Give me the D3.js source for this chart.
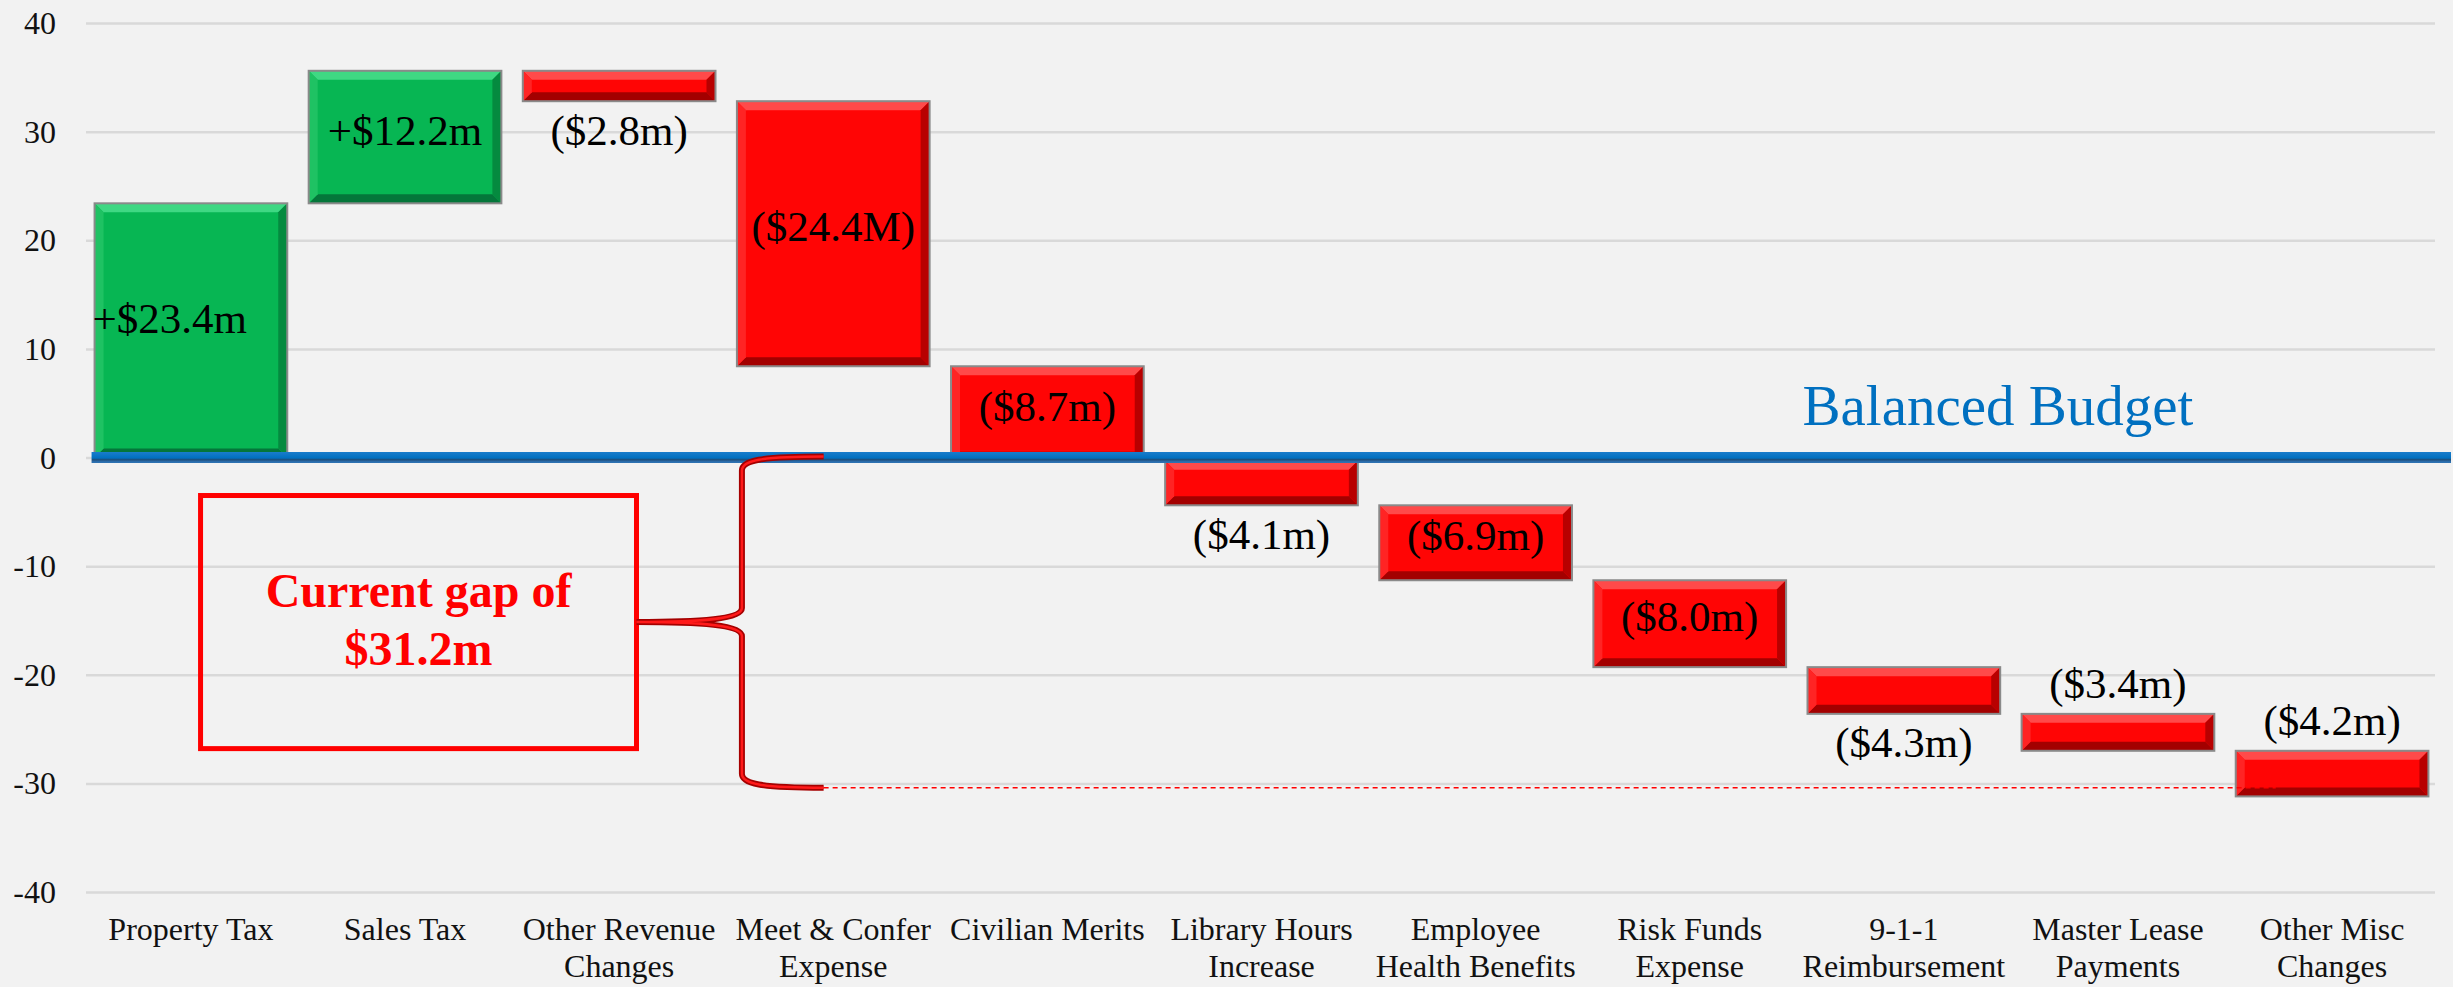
<!DOCTYPE html>
<html>
<head>
<meta charset="utf-8">
<title>Budget Gap Waterfall</title>
<script src="https://d3js.org/d3.v7.min.js"></script>
<style>
  body { margin: 0; background: #f2f2f2; }
  svg { display: block; font-family: "Liberation Serif", "Times New Roman", serif; }
</style>
</head>
<body>
<div id="chart"></div>
<script>
// categories along the bottom, split over two lines like the original
var categories = ["Property Tax", "Sales Tax", "Other Revenue Changes", "Meet & Confer Expense",
  "Civilian Merits", "Library Hours Increase", "Employee Health Benefits", "Risk Funds Expense",
  "9-1-1 Reimbursement", "Master Lease Payments", "Other Misc Changes"];
var categoryLines = [["Property Tax"], ["Sales Tax"], ["Other Revenue", "Changes"], ["Meet & Confer", "Expense"],
  ["Civilian Merits"], ["Library Hours", "Increase"], ["Employee", "Health Benefits"], ["Risk Funds", "Expense"],
  ["9-1-1", "Reimbursement"], ["Master Lease", "Payments"], ["Other Misc", "Changes"]];

// change for each item, $ millions
var changes = [23.4, 12.2, -2.8, -24.4, -8.7, -4.1, -6.9, -8.0, -4.3, -3.4, -4.2];
var valueLabels = ["+$23.4m", "+$12.2m", "($2.8m)", "($24.4M)", "($8.7m)", "($4.1m)",
  "($6.9m)", "($8.0m)", "($4.3m)", "($3.4m)", "($4.2m)"];
// where each value label sits relative to its bar
var labelPlace = ["left", "inside", "below", "inside", "inside", "below", "inside", "inside", "below", "above", "above"];

var yTicks = [40, 30, 20, 10, 0, -10, -20, -30, -40];
var lineText = "Balanced Budget";
var gapText = ["Current gap of", "$31.2m"];
var gapLevel = -30.4;       // where the brace and dashed line end
var gapBox = [-3.5, -26.8]; // top / bottom of the call-out box

var width = 2453, height = 987;
var left = 86, right = 2435;

var svg = d3.select("#chart").append("svg")
  .attr("width", width)
  .attr("height", height);

svg.append("rect").attr("width", width).attr("height", height).attr("fill", "#f2f2f2");

var x = d3.scaleBand().domain(categories).range([left, 2437]).paddingInner(0.1).paddingOuter(0.04);
var y = d3.scaleLinear().domain([-40, 40]).range([892, 23]);
var bw = x.bandwidth();

// running totals
var bars = [];
var total = 0;
changes.forEach(function(v, i) {
  var start = total;
  total = total + v;
  bars.push({cat: categories[i], start: start, end: total, value: v, label: valueLabels[i], place: labelPlace[i]});
});

var defs = svg.append("defs");
var blue = defs.append("linearGradient").attr("id", "blueLine").attr("x1", 0).attr("y1", 0).attr("x2", 0).attr("y2", 1);
blue.append("stop").attr("offset", "0").attr("stop-color", "#1a7ccb");
blue.append("stop").attr("offset", "0.55").attr("stop-color", "#0070c0");
blue.append("stop").attr("offset", "0.7").attr("stop-color", "#1f4e79");
blue.append("stop").attr("offset", "0.85").attr("stop-color", "#2a6aa8");
blue.append("stop").attr("offset", "1").attr("stop-color", "#2e75b6");

// gridlines
var grid = svg.append("g")
  .attr("transform", "translate(" + left + ",0)")
  .call(d3.axisLeft(y).tickValues(yTicks).tickSize(-(right - left)).tickFormat(""));
grid.select(".domain").remove();
grid.selectAll("line").attr("stroke", "#d9d9d9").attr("stroke-width", 2.5);

// y labels (plain hyphen for negatives, as in the original)
var yAxis = svg.append("g")
  .attr("transform", "translate(" + left + ",0)")
  .call(d3.axisLeft(y).tickValues(yTicks).tickSize(0).tickPadding(30).tickFormat(function(d) { return String(d); }));
yAxis.select(".domain").remove();
yAxis.selectAll("text")
  .attr("font-family", "Liberation Serif")
  .attr("font-size", 32)
  .attr("fill", "#111")
  .attr("dy", "0.33em");

// x labels
var xAxis = svg.append("g")
  .attr("transform", "translate(0," + y(-40) + ")")
  .call(d3.axisBottom(x).tickSize(0));
xAxis.select(".domain").remove();
xAxis.selectAll("text").each(function(d, i) {
  var t = d3.select(this).text(null).attr("dy", null).attr("y", 0)
    .attr("font-family", "Liberation Serif").attr("font-size", 32).attr("fill", "#111");
  categoryLines[i].forEach(function(line, k) {
    t.append("tspan").attr("x", 0).attr("y", 48 + k * 37).text(line);
  });
});

// bars with a bevel look
var colors = {
  up:   {base: "#07b653", top: "#3fd883", left: "#1fc263", right: "#058a3f", bottom: "#04763a"},
  down: {base: "#ff0505", top: "#ff4a4a", left: "#ff2424", right: "#b80000", bottom: "#a30000"}
};

var barG = svg.append("g");
bars.forEach(function(d) {
  var c = d.value >= 0 ? colors.up : colors.down;
  var x0 = x(d.cat), x1 = x0 + bw;
  var y0 = y(Math.max(d.start, d.end)), y1 = y(Math.min(d.start, d.end));
  var b = Math.min(9, (y1 - y0) / 3);
  var g = barG.append("g");
  g.append("rect").attr("x", x0).attr("y", y0).attr("width", bw).attr("height", y1 - y0).attr("fill", c.base);
  g.append("polygon").attr("points", [[x0, y0], [x1, y0], [x1 - b, y0 + b], [x0 + b, y0 + b]].join(" ")).attr("fill", c.top);
  g.append("polygon").attr("points", [[x0, y1], [x1, y1], [x1 - b, y1 - b], [x0 + b, y1 - b]].join(" ")).attr("fill", c.bottom);
  g.append("polygon").attr("points", [[x0, y0], [x0 + b, y0 + b], [x0 + b, y1 - b], [x0, y1]].join(" ")).attr("fill", c.left);
  g.append("polygon").attr("points", [[x1, y0], [x1 - b, y0 + b], [x1 - b, y1 - b], [x1, y1]].join(" ")).attr("fill", c.right);
  g.append("rect").attr("x", x0).attr("y", y0).attr("width", bw).attr("height", y1 - y0)
    .attr("fill", "none").attr("stroke", "#8a8a8a").attr("stroke-width", 2);
});

// balanced budget line
svg.append("rect")
  .attr("x", x(categories[0]) - 3).attr("y", y(0) - 5.5)
  .attr("width", width - 2 - (x(categories[0]) - 3)).attr("height", 11)
  .attr("fill", "url(#blueLine)");

svg.append("text")
  .attr("x", x(categories[8]) - 5).attr("y", y(0) - 33)
  .attr("font-size", 57).attr("fill", "#0070c0")
  .text(lineText);

// value labels
var labelG = svg.append("g").attr("font-size", 43).attr("fill", "#000");
bars.forEach(function(d) {
  var x0 = x(d.cat), cx = x0 + bw / 2;
  var top = y(Math.max(d.start, d.end)), bottom = y(Math.min(d.start, d.end));
  var t = labelG.append("text").attr("dominant-baseline", "central").text(d.label);
  if (d.place == "left") {
    t.attr("x", x0 - 2).attr("y", (top + bottom) / 2 - 12).attr("text-anchor", "start");
  } else if (d.place == "inside") {
    t.attr("x", cx).attr("y", (top + bottom) / 2 - 7).attr("text-anchor", "middle");
  } else if (d.place == "below") {
    t.attr("x", cx).attr("y", bottom + 29).attr("text-anchor", "middle");
  } else {
    t.attr("x", cx).attr("y", top - 30).attr("text-anchor", "middle");
  }
});

// call-out box
var boxL = x(categories[0]) + 0.55 * bw, boxR = x(categories[2]) + 0.59 * bw;
var boxT = y(gapBox[0]), boxB = y(gapBox[1]);
var boxMid = (boxT + boxB) / 2;
svg.append("rect")
  .attr("x", boxL).attr("y", boxT).attr("width", boxR - boxL).attr("height", boxB - boxT)
  .attr("fill", "none").attr("stroke", "#ff0000").attr("stroke-width", 5);
svg.append("text")
  .attr("x", (boxL + boxR) / 2).attr("y", boxMid - 15)
  .attr("text-anchor", "middle").attr("font-size", 48).attr("font-weight", "bold").attr("fill", "#ff0000")
  .text(gapText[0]);
svg.append("text")
  .attr("x", (boxL + boxR) / 2).attr("y", boxMid + 43)
  .attr("text-anchor", "middle").attr("font-size", 48).attr("font-weight", "bold").attr("fill", "#ff0000")
  .text(gapText[1]);

// dashed line out to the last bar
var endX = x(categories[3]) + 0.45 * bw;
svg.append("line")
  .attr("x1", endX).attr("x2", x(categories[10]) + 40)
  .attr("y1", y(gapLevel)).attr("y2", y(gapLevel))
  .attr("stroke", "#ff0000").attr("stroke-width", 1.5).attr("stroke-dasharray", "5,4");

// curly brace
var spineX = x(categories[3]) + 5;
var yTop = y(0) - 1, yBot = y(gapLevel);
var brace = "M" + endX + "," + yTop +
  " C" + (spineX + 18) + "," + yTop + " " + spineX + "," + (yTop + 4) + " " + spineX + "," + (yTop + 14) +
  " L" + spineX + "," + (boxMid - 14) +
  " C" + spineX + "," + (boxMid - 3) + " " + (spineX - 40) + "," + boxMid + " " + boxR + "," + boxMid +
  " M" + boxR + "," + boxMid +
  " C" + (spineX - 40) + "," + boxMid + " " + spineX + "," + (boxMid + 3) + " " + spineX + "," + (boxMid + 14) +
  " L" + spineX + "," + (yBot - 14) +
  " C" + spineX + "," + (yBot - 4) + " " + (spineX + 18) + "," + yBot + " " + endX + "," + yBot;
svg.append("path").attr("d", brace).attr("fill", "none").attr("stroke", "#a50000").attr("stroke-width", 6);
svg.append("path").attr("d", brace).attr("fill", "none").attr("stroke", "#ff1a1a").attr("stroke-width", 2.5);
</script>
</body>
</html>
